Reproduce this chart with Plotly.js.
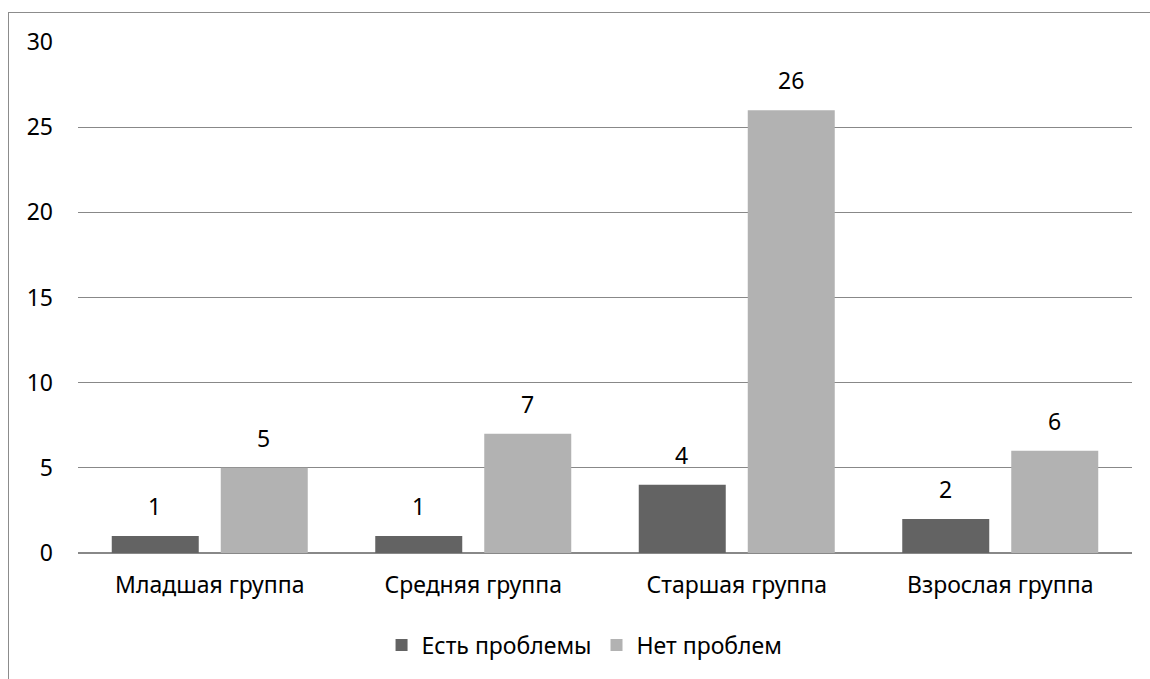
<!DOCTYPE html>
<html>
<head>
<meta charset="utf-8">
<script src="https://cdn.plot.ly/plotly-3.0.1.min.js"></script>
<style>
  html, body { margin: 0; padding: 0; background: #fff; }
  #wrap { position: relative; width: 1150px; height: 679px; overflow: hidden; }
  #chart { width: 1150px; height: 679px; }
  #frame { position: absolute; left: 8px; top: 12px; width: 1200px; height: 700px;
           border-left: 1px solid #8c8c8c; border-top: 1px solid #8c8c8c; pointer-events: none; }
</style>
</head>
<body>
<div id="wrap">
  <div id="chart"></div>
  <div id="frame"></div>
</div>
<script>
const categories = ["Младшая группа", "Средняя группа", "Старшая группа", "Взрослая группа"];
const seriesNames = ["Есть проблемы", "Нет проблем"];
const hasProblems = [1, 1, 4, 2];
const noProblems = [5, 7, 26, 6];
const yTicks = [0, 5, 10, 15, 20, 25, 30];

const FONT = "Noto Sans, Open Sans, sans-serif";
const FS = 23;
const colors = ["#636363", "#b2b2b2"];
const series = [hasProblems, noProblems];

const traces = series.map((vals, i) => ({
  type: "bar",
  name: seriesNames[i],
  x: categories,
  y: vals,
  marker: { color: colors[i] },
  hoverinfo: "skip"
}));

const annotations = [];
const shifts = [-55, 54];
series.forEach((vals, i) => {
  vals.forEach((v, j) => {
    annotations.push({
      x: categories[j], y: v, xref: "x", yref: "y",
      text: String(v), showarrow: false,
      xanchor: "center", yanchor: "bottom",
      xshift: shifts[i], yshift: 12,
      font: { family: FONT, size: FS, color: "#000" }
    });
  });
});

const layout = {
  width: 1150, height: 679,
  margin: { l: 78, r: 18, t: 42, b: 126 },
  paper_bgcolor: "#fff", plot_bgcolor: "#fff",
  barmode: "group",
  bargap: 0.1727,
  bargroupgap: 0.2018,
  font: { family: FONT, size: FS, color: "#000" },
  xaxis: {
    type: "category",
    showgrid: false, showline: false, zeroline: false,
    ticks: "", ticklabelstandoff: 16,
    tickfont: { family: FONT, size: FS, color: "#000" }
  },
  yaxis: {
    range: [0, 30],
    tickvals: yTicks,
    ticktext: yTicks.map(String),
    showgrid: true, gridcolor: "#888888", gridwidth: 1,
    zeroline: true, zerolinecolor: "#888888", zerolinewidth: 1.5,
    showline: false, ticks: "", ticklabelstandoff: 24,
    tickfont: { family: FONT, size: FS, color: "#000" }
  },
  showlegend: true,
  legend: {
    orientation: "h", x: 0.4806, xanchor: "center", y: -0.18, yanchor: "middle",
    font: { family: FONT, size: FS, color: "#000" },
    itemwidth: 30, tracegroupgap: 0, traceorder: "normal"
  },
  annotations: annotations
};

Plotly.newPlot("chart", traces, layout, { displayModeBar: false, staticPlot: true });
</script>
</body>
</html>
